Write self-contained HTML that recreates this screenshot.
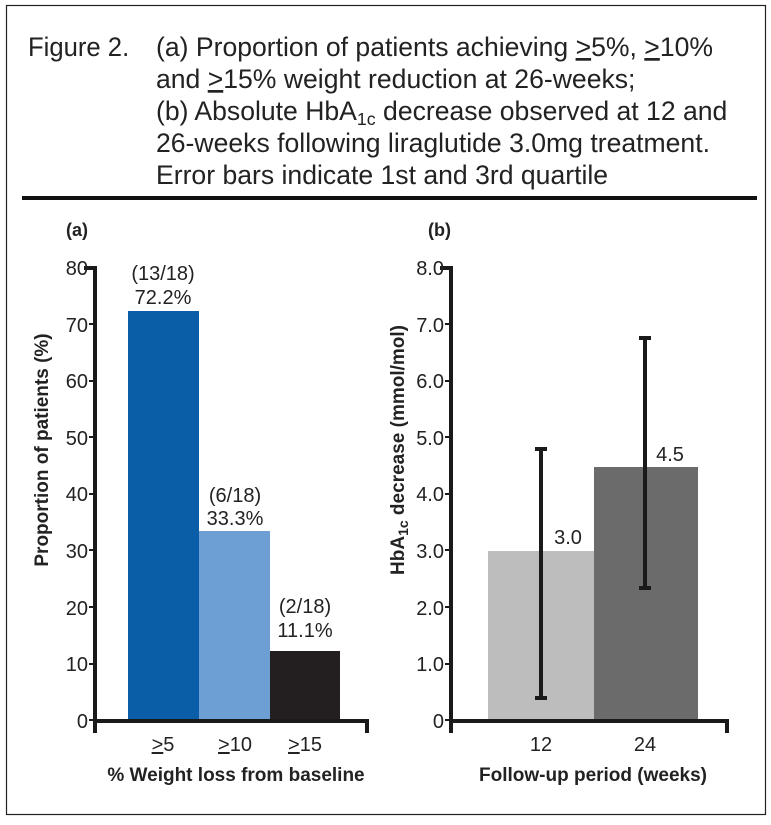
<!DOCTYPE html>
<html><head><style>
body{margin:0;background:#fff;}
svg{display:block;font-family:"Liberation Sans",Arial,sans-serif;}
</style></head><body>
<svg width="771" height="825" viewBox="0 0 771 825">
<rect x="6.5" y="5.5" width="759" height="809" fill="none" stroke="#222" stroke-width="1.2"/>
<g font-size="27" fill="#222">
<text x="28" y="56" transform="translate(28 0) scale(0.95 1) translate(-28 0)">Figure 2.</text>
<g transform="translate(156 0) scale(0.985 1) translate(-156 0)">
<text x="156" y="56">(a) Proportion of patients achieving <tspan text-decoration="underline">&gt;</tspan>5%, <tspan text-decoration="underline">&gt;</tspan>10%</text>
<text x="156" y="88">and <tspan text-decoration="underline">&gt;</tspan>15% weight reduction at 26-weeks;</text>
<text x="156" y="120">(b) Absolute HbA<tspan font-size="18" dy="5">1c</tspan><tspan dy="-5"> decrease observed at 12 and</tspan></text>
<text x="156" y="152">26-weeks following liraglutide 3.0mg treatment.</text>
<text x="156" y="184">Error bars indicate 1st and 3rd quartile</text>
</g></g>
<rect x="22" y="196" width="735" height="4" fill="#111"/>
<g font-size="18" font-weight="bold" fill="#222">
<text x="66" y="236">(a)</text><text x="428" y="236">(b)</text>
</g>
<!-- chart a -->
<rect x="128" y="311" width="71" height="409" fill="#0a5ea8"/>
<rect x="199" y="531" width="71" height="189" fill="#6e9fd4"/>
<rect x="270" y="651" width="70" height="69" fill="#231f20"/>
<g stroke="#1a1a1a" stroke-width="4" fill="none">
<path d="M84 268 H95 V733"/><path d="M95 721 H367 V733"/>
</g>
<g stroke="#1a1a1a" stroke-width="2">
<path d="M89 324 H95 M89 381 H95 M89 437 H95 M89 494 H95 M89 550 H95 M89 607 H95 M89 664 H95 M89 720 H95"/>
</g>
<g font-size="20" fill="#222" text-anchor="end">
<text x="88" y="275">80</text><text x="88" y="332">70</text><text x="88" y="388">60</text><text x="88" y="445">50</text>
<text x="88" y="501">40</text><text x="88" y="558">30</text><text x="88" y="615">20</text><text x="88" y="671">10</text><text x="88" y="728">0</text>
</g>
<g font-size="20" fill="#222" text-anchor="middle">
<text x="163" y="280">(13/18)</text><text x="163" y="304">72.2%</text>
<text x="235" y="502">(6/18)</text><text x="235" y="525">33.3%</text>
<text x="305" y="613">(2/18)</text><text x="305" y="637">11.1%</text>
<text x="163" y="751"><tspan text-decoration="underline">&gt;</tspan>5</text>
<text x="235" y="751"><tspan text-decoration="underline">&gt;</tspan>10</text>
<text x="305" y="751"><tspan text-decoration="underline">&gt;</tspan>15</text>
</g>
<text x="236" y="781" font-size="19" font-weight="bold" fill="#222" text-anchor="middle">% Weight loss from baseline</text>
<text transform="translate(48 450) rotate(-90)" font-size="19" font-weight="bold" fill="#222" text-anchor="middle">Proportion of patients (%)</text>
<!-- chart b -->
<rect x="488" y="551" width="106" height="169" fill="#bdbdbd"/>
<rect x="594" y="467" width="104" height="253" fill="#6b6b6b"/>
<g stroke="#1a1a1a" stroke-width="4" fill="none">
<path d="M440 268 H451 V733"/><path d="M451 721 H727 V733"/>
<path d="M541 449 V698 M535 449 H547 M535 698 H547"/>
<path d="M645 338 V588 M639 338 H651 M639 588 H651"/>
</g>
<g stroke="#1a1a1a" stroke-width="2">
<path d="M445 324 H451 M445 381 H451 M445 437 H451 M445 494 H451 M445 550 H451 M445 607 H451 M445 664 H451 M445 720 H451"/>
</g>
<g font-size="20" fill="#222" text-anchor="end">
<text x="444" y="275">8.0</text><text x="444" y="332">7.0</text><text x="444" y="388">6.0</text><text x="444" y="445">5.0</text>
<text x="444" y="501">4.0</text><text x="444" y="558">3.0</text><text x="444" y="615">2.0</text><text x="444" y="671">1.0</text><text x="444" y="728">0</text>
</g>
<g font-size="20" fill="#222" text-anchor="middle">
<text x="568" y="544">3.0</text><text x="670" y="461">4.5</text>
<text x="541" y="751">12</text><text x="645" y="751">24</text>
</g>
<text x="593" y="781" font-size="19" font-weight="bold" fill="#222" text-anchor="middle">Follow-up period (weeks)</text>
<text transform="translate(404 450) rotate(-90)" font-size="19" font-weight="bold" fill="#222" text-anchor="middle">HbA<tspan font-size="14" dy="4">1c</tspan><tspan dy="-4"> decrease (mmol/mol)</tspan></text>
</svg>
</body></html>
